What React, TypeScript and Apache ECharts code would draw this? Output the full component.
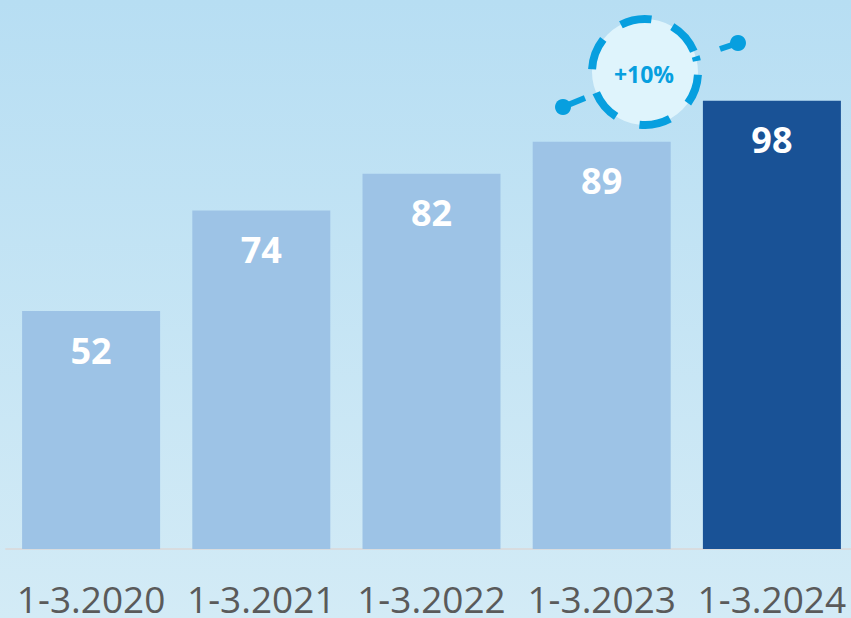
import React, { useEffect, useRef } from "react";
import * as echarts from "echarts";

const categories = ["1-3.2020", "1-3.2021", "1-3.2022", "1-3.2023", "1-3.2024"];
const values = [52, 74, 82, 89, 98];
const barColors = ["#9dc3e6", "#9dc3e6", "#9dc3e6", "#9dc3e6", "#195296"];
const badgeText = "+10%";

export default function App() {
  const ref = useRef<HTMLDivElement>(null);
  useEffect(() => {
    if (!ref.current) return;
    const chart = echarts.init(ref.current, null, { renderer: "svg" });
    const cx = 645;
    const cy = 72;
    const r = 53;
    const deg = Math.PI / 180;
    const arcs = [
      [243, 277],
      [301, 337],
      [343, 348],
      [3, 36],
      [62, 96],
      [123, 157],
      [183, 218],
    ];
    const badgeColor = "#079fdf";
    chart.setOption({
      animation: false,
      backgroundColor: {
        type: "linear",
        x: 0,
        y: 0,
        x2: 0,
        y2: 1,
        colorStops: [
          { offset: 0, color: "#b7def3" },
          { offset: 1, color: "#d3ebf6" },
        ],
      },
      grid: {
        left: 6,
        top: 0,
        width: 851,
        height: 549,
        containLabel: false,
        outerBoundsMode: "none",
      },
      xAxis: {
        type: "category",
        data: categories,
        axisLine: { show: true, lineStyle: { color: "#d8dcdf", width: 2 } },
        axisTick: { show: false },
        axisLabel: {
          color: "#5a5a5a",
          fontSize: 37,
          fontFamily: "Open Sans",
          margin: 31,
          interval: 0,
          hideOverlap: false,
        },
      },
      yAxis: {
        type: "value",
        min: 0,
        max: 120,
        show: false,
        splitLine: { show: false },
      },
      series: [
        {
          type: "bar",
          barWidth: 138,
          data: values.map((v, i) => ({ value: v, itemStyle: { color: barColors[i] } })),
          label: {
            show: true,
            position: "insideTop",
            distance: 21,
            color: "#ffffff",
            fontSize: 36,
            fontWeight: "bold",
            fontFamily: "Open Sans",
          },
        },
      ],
      graphic: [
        {
          type: "circle",
          shape: { cx, cy, r: 53 },
          style: { fill: "#dff4fc" },
          z: 10,
        },
        ...arcs.map(([a, b]) => ({
          type: "arc",
          shape: { cx, cy, r, startAngle: a * deg, endAngle: b * deg, clockwise: true },
          style: { stroke: badgeColor, lineWidth: 8, fill: "none" },
          z: 11,
        })),
        {
          type: "line",
          shape: { x1: 720, y1: 49, x2: 738, y2: 43 },
          style: { stroke: badgeColor, lineWidth: 6 },
          z: 11,
        },
        {
          type: "circle",
          shape: { cx: 738, cy: 43, r: 8 },
          style: { fill: badgeColor },
          z: 11,
        },
        {
          type: "line",
          shape: { x1: 563, y1: 107, x2: 585, y2: 98 },
          style: { stroke: badgeColor, lineWidth: 6 },
          z: 11,
        },
        {
          type: "circle",
          shape: { cx: 563, cy: 107, r: 8 },
          style: { fill: badgeColor },
          z: 11,
        },
        {
          type: "text",
          x: cx - 1,
          y: cy + 2,
          style: {
            text: badgeText,
            fill: badgeColor,
            fontSize: 23,
            fontWeight: "bold",
            fontFamily: "Open Sans",
            align: "center",
            verticalAlign: "middle",
          },
          z: 12,
        },
      ],
    });
    return () => chart.dispose();
  }, []);
  return (
    <div
      ref={ref}
      style={{ position: "fixed", left: 0, top: 0, width: 851, height: 618 }}
    />
  );
}
